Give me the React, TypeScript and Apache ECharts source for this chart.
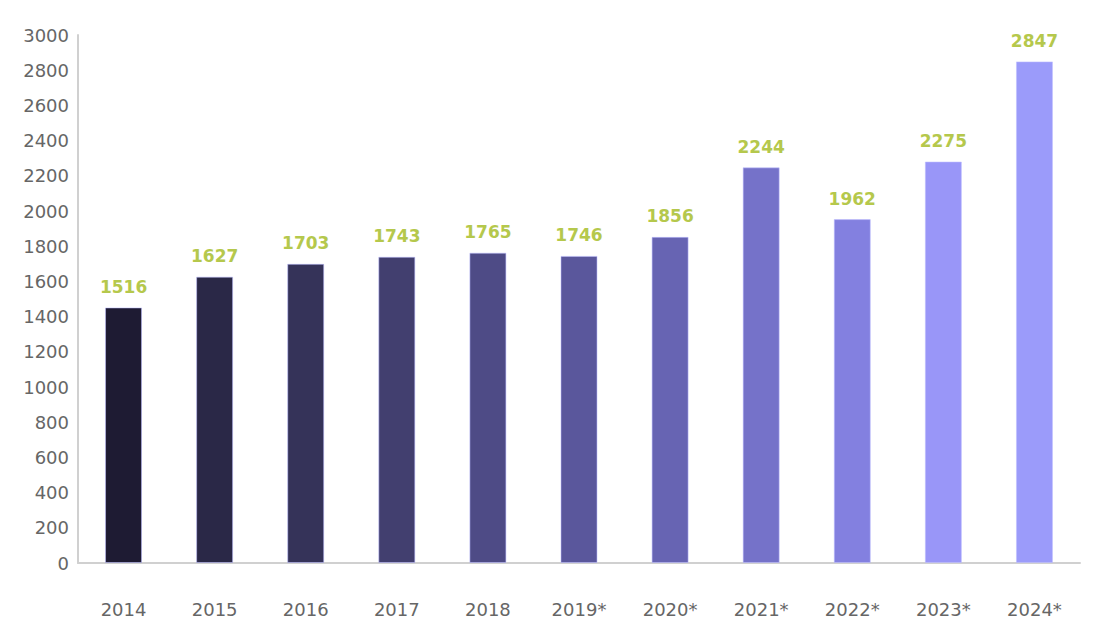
import React, { useEffect, useRef } from "react";
import * as echarts from "echarts";

const categories = ["2014", "2015", "2016", "2017", "2018", "2019*", "2020*", "2021*", "2022*", "2023*", "2024*"];
const barValues = [1452, 1627, 1700, 1740, 1763, 1745, 1853, 2248, 1954, 2281, 2850];
const labelValues = [1516, 1627, 1703, 1743, 1765, 1746, 1856, 2244, 1962, 2275, 2847];
const barColors = ["#1e1b33", "#2a2847", "#353359", "#423f6f", "#4e4b86", "#5a579c", "#6764b3", "#7572c9", "#8380e0", "#9996f8", "#9b9bfa"];

const FONT = "DejaVu Sans";

export default function App() {
  const ref = useRef<HTMLDivElement>(null);
  useEffect(() => {
    if (!ref.current) return;
    const chart = echarts.init(ref.current, undefined, { renderer: "svg" });
    chart.setOption({
      animation: false,
      grid: { left: 70, right: 12, top: 27, bottom: 61 },
      xAxis: {
        type: "category",
        data: categories,
        axisLine: { lineStyle: { color: "#d0d0d0", width: 2 } },
        axisTick: { show: false },
        axisLabel: { color: "#666666", fontSize: 18, fontFamily: FONT, margin: 37 },
      },
      yAxis: {
        type: "value",
        min: 0,
        max: 3000,
        interval: 200,
        axisLine: { show: true, lineStyle: { color: "#d0d0d0", width: 2 } },
        axisTick: { show: false },
        splitLine: { show: false },
        axisLabel: { color: "#666666", fontSize: 18, fontFamily: FONT, margin: 9, formatter: (v: number) => String(v) },
      },
      series: [
        {
          type: "bar",
          barWidth: 37,
          data: barValues.map((v, i) => ({
            value: v,
            itemStyle: { color: barColors[i], borderColor: "rgba(190,190,255,0.55)", borderWidth: 1 },
          })),
          label: {
            show: true,
            position: "top",
            distance: 12,
            color: "#b5c84c",
            fontSize: 17,
            fontWeight: "bold",
            fontFamily: FONT,
            formatter: (p: any) => String(labelValues[p.dataIndex]),
          },
        },
      ],
    });
    return () => chart.dispose();
  }, []);
  return <div ref={ref} style={{ width: 1084, height: 616 }} />;
}
